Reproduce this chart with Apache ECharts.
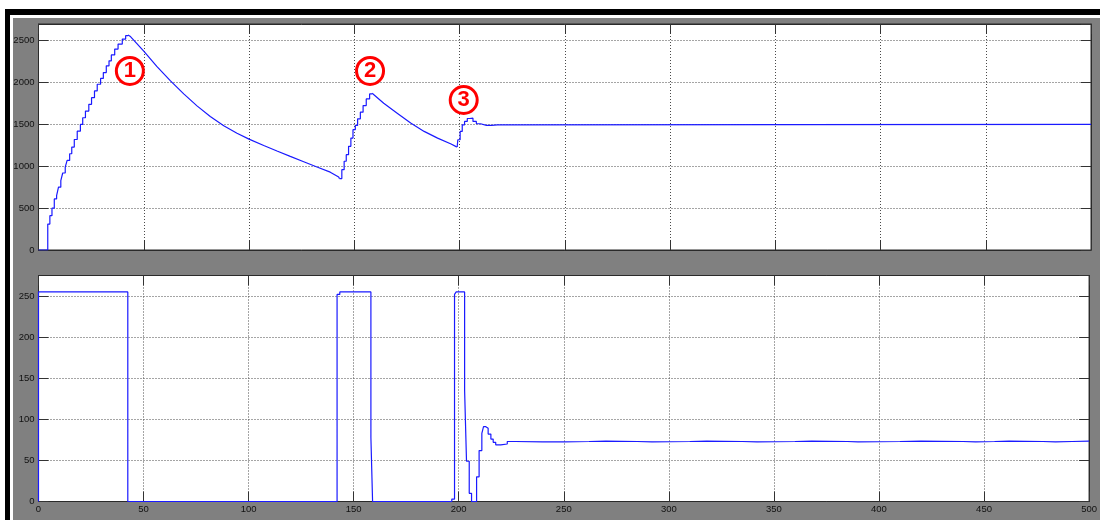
<!DOCTYPE html>
<html>
<head>
<meta charset="utf-8">
<script src="https://cdn.jsdelivr.net/npm/echarts@6/dist/echarts.min.js"></script>
<style>
  html, body { margin: 0; padding: 0; background: #ffffff; }
  #wrap { position: relative; width: 1100px; height: 520px; overflow: hidden; background: #ffffff; }
  #gray { position: absolute; left: 13px; top: 18px; width: 1087px; height: 502px; background: #808080; }
  #blackTop { position: absolute; left: 5px; top: 9px; width: 1095px; height: 6px; background: #000000; }
  #blackLeft { position: absolute; left: 5px; top: 9px; width: 5px; height: 511px; background: #000000; }
  #chart { position: absolute; left: 0; top: 0; width: 1100px; height: 520px; }
</style>
</head>
<body>
<div id="wrap">
  <div id="gray"></div>
  <div id="blackTop"></div>
  <div id="blackLeft"></div>
  <div id="chart"></div>
</div>
<script>
// ---------- data ----------
// upper plot: output — staircase rises and smooth decays
const rise1T = [0, 4.4, 5.4, 6.4, 7.5, 8.6, 9.5, 10.6, 11.5, 12.7, 13.6, 14.8, 15.8, 17.0, 18.4, 19.9, 21.0, 22.3, 23.9, 25.2, 26.6, 27.9, 29.5, 30.8, 32.2, 33.5, 34.6, 36.2, 37.8, 39.8, 41.4, 42.5];
const rise1V = [0, 310, 410, 500, 610, 650, 750, 830, 920, 990, 1070, 1150, 1230, 1320, 1420, 1500, 1580, 1660, 1740, 1820, 1900, 1980, 2050, 2120, 2200, 2260, 2330, 2400, 2460, 2520, 2560, 2570];
const decay1T = [42.5, 43.7, 50, 56.3, 62.7, 69, 75.3, 81.6, 88, 94.3, 100, 107, 113.3, 119.6, 126, 132.3, 138.6, 142.6, 143];
const decay1V = [2570, 2550, 2375, 2190, 2020, 1865, 1722, 1595, 1485, 1395, 1325, 1248, 1182, 1118, 1055, 992, 930, 872, 853];
const rise2T = [143, 144.1, 145.2, 146.2, 147.3, 148.4, 149.4, 150.5, 151.6, 152.9, 154.2, 155.7, 157.3, 158.5];
const rise2V = [853, 960, 1060, 1139, 1238, 1337, 1437, 1488, 1567, 1647, 1726, 1805, 1865, 1873];
const decay2T = [158.5, 164, 170.4, 176.8, 183.2, 189.6, 196, 198.4, 198.9];
const decay2V = [1873, 1754, 1635, 1516, 1417, 1337, 1266, 1235, 1230];
const rise3T = [198.9, 199.2, 200.3, 201.3, 202.4, 203.7, 204.8, 206.4, 208, 210, 212.8, 215.2, 218, 500];
const rise3V = [1230, 1317, 1417, 1496, 1536, 1571, 1575, 1536, 1508, 1488, 1488, 1496, 1500, 1500];

// lower plot: control signal
const ctrlT = [0, 0, 42.5, 142.1, 143.4, 158.2, 159, 196.7, 198, 198.8, 202.8, 203.7, 205, 206.1, 208.5, 209.7, 211, 211.8, 212.9, 214, 215.3, 216.4, 217.6, 220, 223.1, 227,
  240, 250, 262, 270, 285, 292, 310, 318, 335, 342, 360, 368, 385, 390, 410, 420, 440, 446, 455, 462, 478, 484, 492, 500];
const ctrlV = [0, 255, 0, 252, 255, 78, 0, 3, 252, 255, 135, 49, 10, 0, 30, 62, 83, 91, 89, 82, 76, 72, 69, 70, 73, 72.5,
  72.5, 73, 73.5, 73, 72.5, 73, 73.5, 73, 72.5, 73, 73.5, 73, 72.5, 73, 73.5, 73, 72.5, 73, 73.5, 73, 72.5, 73, 73.5, 73.5];

// annotations (circled numbers)
const annotT = [43.4, 157.5, 202];
const annotV = [2139, 2139, 1792];
const annotText = ['1', '2', '3'];

// axis ranges / ticks
const xMin = 0, xMax = 500, xStep = 50;
const topMax = 2700, topStep = 500;
const botMax = 275, botStep = 50;

// ---------- chart ----------
const zip = (T, V) => T.map((t, i) => [t, V[i]]);
const chart = echarts.init(document.getElementById('chart'), null, { renderer: 'canvas' });

const lineColor = '#1a1aff';
const frameColor = '#2a2a2a';
const gridLine = { show: true, lineStyle: { color: '#4a4a4a', type: [1, 2], width: 1 } };
const labelFont = { fontFamily: 'Liberation Sans', fontSize: 9.5, color: '#111' };

function xAx(grid, pos, labels, split) {
  return {
    type: 'value', gridIndex: grid, position: pos, min: xMin, max: xMax, interval: xStep,
    axisLine: { show: true, onZero: false, lineStyle: { color: frameColor, width: 1 } },
    axisTick: { show: true, inside: true, length: 10, lineStyle: { color: '#333' } },
    axisLabel: labels ? Object.assign({ show: true, margin: 3 }, labelFont) : { show: false },
    splitLine: split ? gridLine : { show: false }
  };
}
function yAx(grid, pos, max, step, labels, split) {
  return {
    type: 'value', gridIndex: grid, position: pos, min: 0, max: max, interval: step,
    axisLine: { show: true, onZero: false, lineStyle: { color: frameColor, width: 1 } },
    axisTick: { show: true, inside: true, length: 10, lineStyle: { color: '#333' } },
    axisLabel: labels ? Object.assign({ show: true, margin: 4, showMaxLabel: false,
      formatter: v => (v % step === 0 ? String(v) : '') }, labelFont) : { show: false },
    splitLine: split ? gridLine : { show: false }
  };
}

const lineSeries = (data, xi, yi, step) => ({
  type: 'line', xAxisIndex: xi, yAxisIndex: yi, data: data, step: step,
  symbol: 'none', silent: true, animation: false,
  lineStyle: { color: lineColor, width: 1.2 }, z: 3
});

chart.setOption({
  animation: false,
  backgroundColor: 'transparent',
  grid: [
    { left: 38.5, right: 9, top: 24, height: 226, show: true, backgroundColor: '#ffffff', borderColor: frameColor, borderWidth: 1 },
    { left: 38.5, right: 9, top: 275.5, height: 226, show: true, backgroundColor: '#ffffff', borderColor: frameColor, borderWidth: 1 }
  ],
  xAxis: [
    xAx(0, 'bottom', false, true),
    xAx(1, 'bottom', true, true),
    xAx(0, 'top', false, false),
    xAx(1, 'top', false, false)
  ],
  yAxis: [
    yAx(0, 'left', topMax, topStep, true, true),
    yAx(1, 'left', botMax, botStep, true, true),
    yAx(0, 'right', topMax, topStep, false, false),
    yAx(1, 'right', botMax, botStep, false, false)
  ],
  series: [
    lineSeries(zip(rise1T, rise1V), 0, 0, 'end'),
    lineSeries(zip(decay1T, decay1V), 0, 0, false),
    lineSeries(zip(rise2T, rise2V), 0, 0, 'end'),
    lineSeries(zip(decay2T, decay2V), 0, 0, false),
    lineSeries(zip(rise3T, rise3V), 0, 0, 'end'),
    lineSeries(zip(ctrlT, ctrlV), 1, 1, 'end'),
    {
      type: 'scatter', xAxisIndex: 0, yAxisIndex: 0, silent: true, animation: false, z: 10,
      data: zip(annotT, annotV).map((p, i) => ({ value: p, name: annotText[i] })),
      symbol: 'circle', symbolSize: 27,
      itemStyle: { color: '#ffffff', borderColor: '#ff0000', borderWidth: 3, opacity: 1 },
      label: {
        show: true, position: 'inside', formatter: p => p.name,
        color: '#ff0000', fontFamily: 'Liberation Sans', fontWeight: 'bold', fontSize: 22
      }
    }
  ]
});
</script>
</body>
</html>
